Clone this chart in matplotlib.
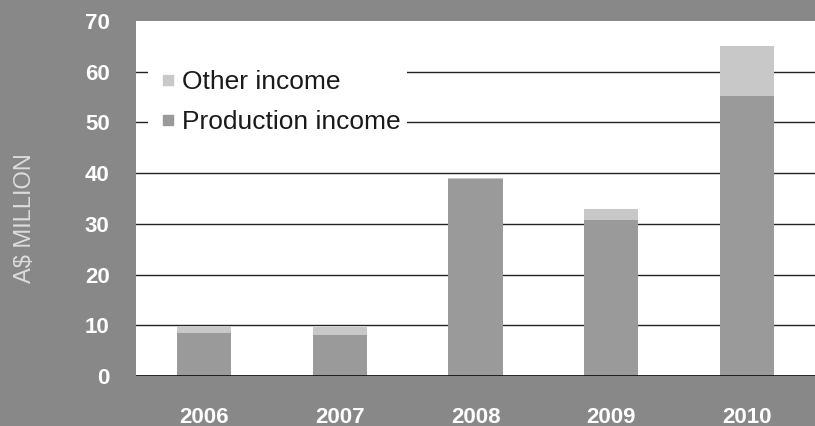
import numpy as np
import matplotlib as mpl
import matplotlib.pyplot as plt
from matplotlib.lines import Line2D
from matplotlib.patches import Rectangle

BG = "#888888"
PROD = "#9a9a9a"
OTHER = "#c8c8c8"

years = ["2006", "2007", "2008", "2009", "2010"]
production = [8.5, 8.1, 38.9, 30.8, 55.2]
other = [1.3, 1.6, 0.2, 2.2, 9.9]

mpl.rcParams.update({
    "font.family": ["Liberation Sans", "DejaVu Sans"],
})

fig = plt.figure(figsize=(8.15, 4.26), dpi=100, facecolor=BG)
ax = fig.add_axes([136 / 815, 50 / 426, 679 / 815, 355 / 426])
ax.set_facecolor("white")

x = np.arange(len(years))
ax.bar(x, production, width=0.4, color=PROD, zorder=2)
ax.bar(x, other, width=0.4, bottom=production, color=OTHER, zorder=2)

ax.set_xlim(-0.5, len(years) - 0.5)
ax.set_ylim(0, 70)
ax.set_yticks(np.arange(0, 71, 10))
# gridlines, skipping the top edge
for v in np.arange(10, 70, 10):
    ax.axhline(v, color="#222222", lw=1.0, zorder=1)
ax.axhline(0, color="#111111", lw=2.0, zorder=3)

for s in ax.spines.values():
    s.set_visible(False)

ax.set_xticks(x)
ax.set_xticklabels(years)
ax.tick_params(axis="both", length=0, colors="white", labelsize=16)
ax.tick_params(axis="x", pad=22)
ax.tick_params(axis="y", pad=19)
for lbl in ax.get_xticklabels() + ax.get_yticklabels():
    lbl.set_fontweight("bold")

fig.text(25 / 815, 1 - 218 / 426, "A$ MILLION", rotation=90, color="#dcdcdc",
         fontsize=17, ha="center", va="center")

# white panel behind the legend, hiding the gridlines there
ax.add_patch(Rectangle((12 / 679, 0.665), 259 / 679, 0.236,
                       transform=ax.transAxes, facecolor="white",
                       edgecolor="none", zorder=1.5))

handles = [
    Line2D([], [], marker="s", ls="none", color=OTHER, markersize=6.5),
    Line2D([], [], marker="s", ls="none", color=PROD, markersize=6.5),
]
leg = ax.legend(handles, ["Other income", "Production income"],
                loc="upper left", bbox_to_anchor=(26 / 679, 0.862),
                frameon=False, fontsize=19, handletextpad=0.3,
                labelspacing=0.62, borderpad=0, handlelength=0.45,
                borderaxespad=0, labelcolor="#1a1a1a")
leg.set_zorder(4)

fig.savefig("out.png", dpi=100, facecolor=BG)
